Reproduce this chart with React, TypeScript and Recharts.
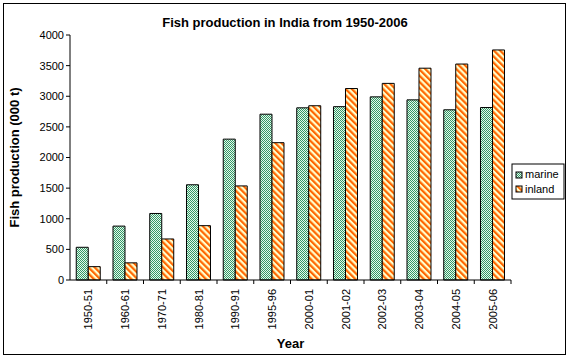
import React from 'react';
import { BarChart, Bar, XAxis, YAxis, Label } from 'recharts';

const years = ['1950-51', '1960-61', '1970-71', '1980-81', '1990-91', '1995-96', '2000-01', '2001-02', '2002-03', '2003-04', '2004-05', '2005-06'];
const marine = [534, 880, 1086, 1555, 2300, 2707, 2811, 2830, 2990, 2941, 2779, 2816];
const inland = [218, 280, 670, 887, 1536, 2242, 2845, 3126, 3210, 3458, 3526, 3756];
const yTicks = [0, 500, 1000, 1500, 2000, 2500, 3000, 3500, 4000];

const data = years.map((year, i) => ({ year, marine: marine[i], inland: inland[i] }));

const FONT = '"Liberation Sans", Arial, sans-serif';
const BAND = 441 / years.length;

function YearTick(props: any) {
  const { x, y, payload } = props;
  return (
    <g>
      <line x1={x + BAND / 2} y1={y - 8} x2={x + BAND / 2} y2={y - 4} stroke="#000" />
      <text
        x={0}
        y={0}
        transform={`translate(${x + 4},${y + 1}) rotate(-90)`}
        textAnchor="end"
        fontSize={11}
        fontFamily={FONT}
        fill="#000"
      >
        {payload.value}
      </text>
    </g>
  );
}

function LegendBox() {
  return (
    <g fontFamily={FONT} fontSize={11}>
      <rect x={512} y={164} width={52} height={35} fill="#fff" stroke="#000" />
      <rect x={516} y={172} width={6} height={6} fill="url(#checks)" stroke="#000" />
      <text x={525} y={178}>marine</text>
      <rect x={516} y={186} width={6} height={6} fill="url(#stripes)" stroke="#000" />
      <text x={525} y={193}>inland</text>
    </g>
  );
}

export default function App() {
  return (
    <div style={{ position: 'absolute', left: 0, top: 0, width: 571, height: 360, background: '#fff' }}>
      <svg width={571} height={360} style={{ position: 'absolute', left: 0, top: 0 }}>
        <rect x={3.5} y={3.5} width={562} height={351} fill="#fff" stroke="#000" />
      </svg>
      <div style={{ position: 'absolute', left: 0, top: 0 }}>
        <BarChart
          width={571}
          height={360}
          data={data}
          margin={{ top: 35, right: 60, left: 30, bottom: 30 }}
          barCategoryGap="17%"
          barGap={0}
        >
          <defs>
            <pattern id="checks" width={2} height={2} patternUnits="userSpaceOnUse">
              <rect x={0} y={0} width={2} height={2} fill="#e6f7ec" />
              <rect x={0} y={0} width={1} height={1} fill="#339966" />
              <rect x={1} y={1} width={1} height={1} fill="#339966" />
            </pattern>
            <pattern id="stripes" width={4.4} height={4.4} patternUnits="userSpaceOnUse" patternTransform="rotate(-45)">
              <rect x={0} y={0} width={4.4} height={4.4} fill="#FFFFCC" />
              <rect x={0} y={0} width={2.2} height={4.4} fill="#FF6600" />
            </pattern>
          </defs>
          <text x={285} y={27} textAnchor="middle" fontFamily={FONT} fontSize={13} fontWeight="bold" fill="#000">
            Fish production in India from 1950-2006
          </text>
          <XAxis
            dataKey="year"
            stroke="#000"
            tickLine={false}
            interval={0}
            height={50}
            tick={<YearTick />}
          >
            <Label value="Year" position="insideBottom" offset={-18} fontFamily={FONT} fontSize={13} fontWeight="bold" fill="#000" />
          </XAxis>
          <YAxis
            domain={[0, 4000]}
            ticks={yTicks}
            interval={0}
            stroke="#000"
            width={40}
            tickSize={4}
            tick={{ fill: '#000', fontSize: 11, fontFamily: FONT }}
          >
            <Label
              value="Fish production (000 t)"
              angle={-90}
              position="insideLeft"
              offset={-16}
              style={{ textAnchor: 'middle' }}
              fontFamily={FONT}
              fontSize={13}
              fontWeight="bold"
              fill="#000"
            />
          </YAxis>
          <Bar dataKey="marine" fill="url(#checks)" stroke="#000" strokeWidth={1} isAnimationActive={false} />
          <Bar dataKey="inland" fill="url(#stripes)" stroke="#000" strokeWidth={1} isAnimationActive={false} />
          <LegendBox />
        </BarChart>
      </div>
    </div>
  );
}
